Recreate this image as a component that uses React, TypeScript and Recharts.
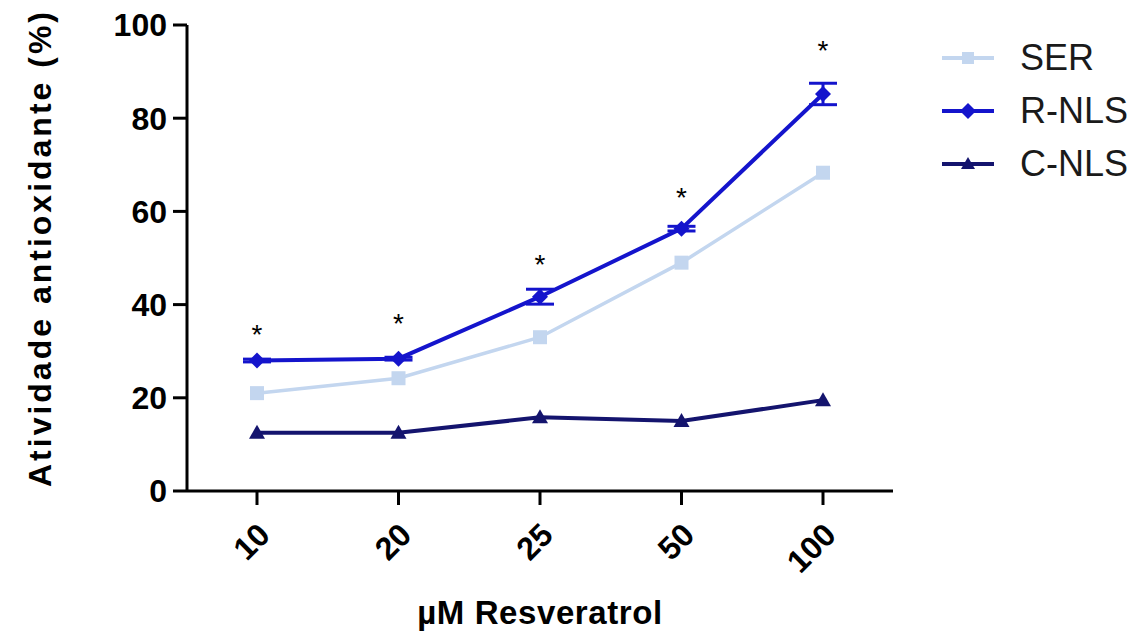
import React from 'react';
import { ComposedChart, Line, XAxis, YAxis, ErrorBar, LabelList, Label } from 'recharts';

const doses = ['10', '20', '25', '50', '100'];
const ser = [21, 24.2, 33, 49, 68.3];
const rNls = [28, 28.4, 41.7, 56.3, 85.2];
const rNlsErr = [0.3, 0.3, 1.6, 0.5, 2.3];
const cNls = [12.5, 12.5, 15.8, 15, 19.5];
const starAt = [34.5, 37, 49.5, 64, 95.5];
const yTicks = [0, 20, 40, 60, 80, 100];

const data = doses.map((d, i) => ({
  dose: d,
  ser: ser[i],
  rNls: rNls[i],
  rNlsErr: rNlsErr[i],
  cNls: cNls[i],
  star: starAt[i],
}));

const FONT = '"Liberation Sans", Arial, sans-serif';
const C_SER = '#c3d6ef';
const C_RNLS = '#1414cc';
const C_CNLS = '#14146e';

const Square = (props: any) => {
  const { cx, cy } = props;
  if (cx == null || cy == null) return null;
  return <rect x={cx - 7} y={cy - 7} width={14} height={14} fill={C_SER} />;
};

const Diamond = (props: any) => {
  const { cx, cy } = props;
  if (cx == null || cy == null) return null;
  return <polygon points={`${cx},${cy - 8} ${cx + 8},${cy} ${cx},${cy + 8} ${cx - 8},${cy}`} fill={C_RNLS} />;
};

const Triangle = (props: any) => {
  const { cx, cy } = props;
  if (cx == null || cy == null) return null;
  return <polygon points={`${cx},${cy - 8} ${cx + 8},${cy + 6} ${cx - 8},${cy + 6}`} fill={C_CNLS} />;
};

const XTick = (props: any) => {
  const { x, y, payload } = props;
  return (
    <g transform={`translate(${x + 7},${y + 22})`}>
      <text transform="rotate(-45)" textAnchor="end" dy="0.35em" fontSize={32} fontWeight="bold" fill="#000" fontFamily={FONT}>
        {payload.value}
      </text>
    </g>
  );
};

const StarLabel = (props: any) => {
  const { x, y } = props;
  return (
    <text x={x} y={y} textAnchor="middle" dy="0.5em" fontSize={28} fill="#000" fontFamily={FONT}>
      *
    </text>
  );
};

const YLabel = (props: any) => {
  const vb = props.viewBox || { x: 0, y: 0, height: 0 };
  const cx = vb.x + 40;
  const cy = vb.y + vb.height / 2 - 10;
  return (
    <text x={cx} y={cy} transform={`rotate(-90 ${cx} ${cy})`} textAnchor="middle" dominantBaseline="central" fontSize={32} letterSpacing={3} fontWeight="bold" fill="#000" fontFamily={FONT}>
      Atividade antioxidante (%)
    </text>
  );
};

const legendItems = [
  { name: 'SER', color: C_SER, shape: 'square' },
  { name: 'R-NLS', color: C_RNLS, shape: 'diamond' },
  { name: 'C-NLS', color: C_CNLS, shape: 'triangle' },
];

const LegendBox = () => (
  <div style={{ position: 'absolute', left: 940, top: 31, fontFamily: FONT }}>
    {legendItems.map((it) => (
      <div key={it.name} style={{ display: 'flex', alignItems: 'center', height: 53 }}>
        <svg width={56} height={20}>
          <line x1={2} y1={10} x2={54} y2={10} stroke={it.color} strokeWidth={4} />
          {it.shape === 'square' && <rect x={22} y={4} width={12} height={12} fill={it.color} />}
          {it.shape === 'diamond' && <polygon points="28,2 36,10 28,18 20,10" fill={it.color} />}
          {it.shape === 'triangle' && <polygon points="28,3 35,15 21,15" fill={it.color} />}
        </svg>
        <span style={{ marginLeft: 24, fontSize: 36, color: '#1a1a1a' }}>{it.name}</span>
      </div>
    ))}
  </div>
);

export default function App() {
  return (
    <div style={{ position: 'relative', width: 1144, height: 633, background: '#fff' }}>
      <style>{`body{margin:0}`}</style>
      <ComposedChart width={1144} height={633} data={data} margin={{ top: 25, right: 251, bottom: 7, left: 0 }}>
        <XAxis
          dataKey="dose"
          height={135}
          padding={{ left: 70, right: 70 }}
          stroke="#000"
          strokeWidth={3}
          tickSize={14}
          tick={<XTick />}
          interval={0}
        >
          <Label value="µM Resveratrol" position="insideBottom" offset={2} fontSize={33} letterSpacing={0.6} fontWeight="bold" fill="#000" fontFamily={FONT} />
        </XAxis>
        <YAxis
          width={187}
          domain={[0, 100]}
          ticks={yTicks}
          stroke="#000"
          strokeWidth={3}
          tickSize={14}
          tickMargin={6}
          tick={{ fontSize: 32, fontWeight: 'bold', fill: '#000', fontFamily: FONT }}
        >
          <Label content={<YLabel />} />
        </YAxis>
        <Line dataKey="ser" stroke={C_SER} strokeWidth={3.5} dot={<Square />} activeDot={false} isAnimationActive={false} />
        <Line dataKey="rNls" stroke={C_RNLS} strokeWidth={4} dot={<Diamond />} activeDot={false} isAnimationActive={false}>
          <ErrorBar dataKey="rNlsErr" width={14} stroke={C_RNLS} strokeWidth={3} />
        </Line>
        <Line dataKey="cNls" stroke={C_CNLS} strokeWidth={4} dot={<Triangle />} activeDot={false} isAnimationActive={false} />
        <Line dataKey="star" stroke="none" dot={false} activeDot={false} legendType="none" isAnimationActive={false}>
          <LabelList dataKey="star" content={<StarLabel />} />
        </Line>
      </ComposedChart>
      <LegendBox />
    </div>
  );
}
